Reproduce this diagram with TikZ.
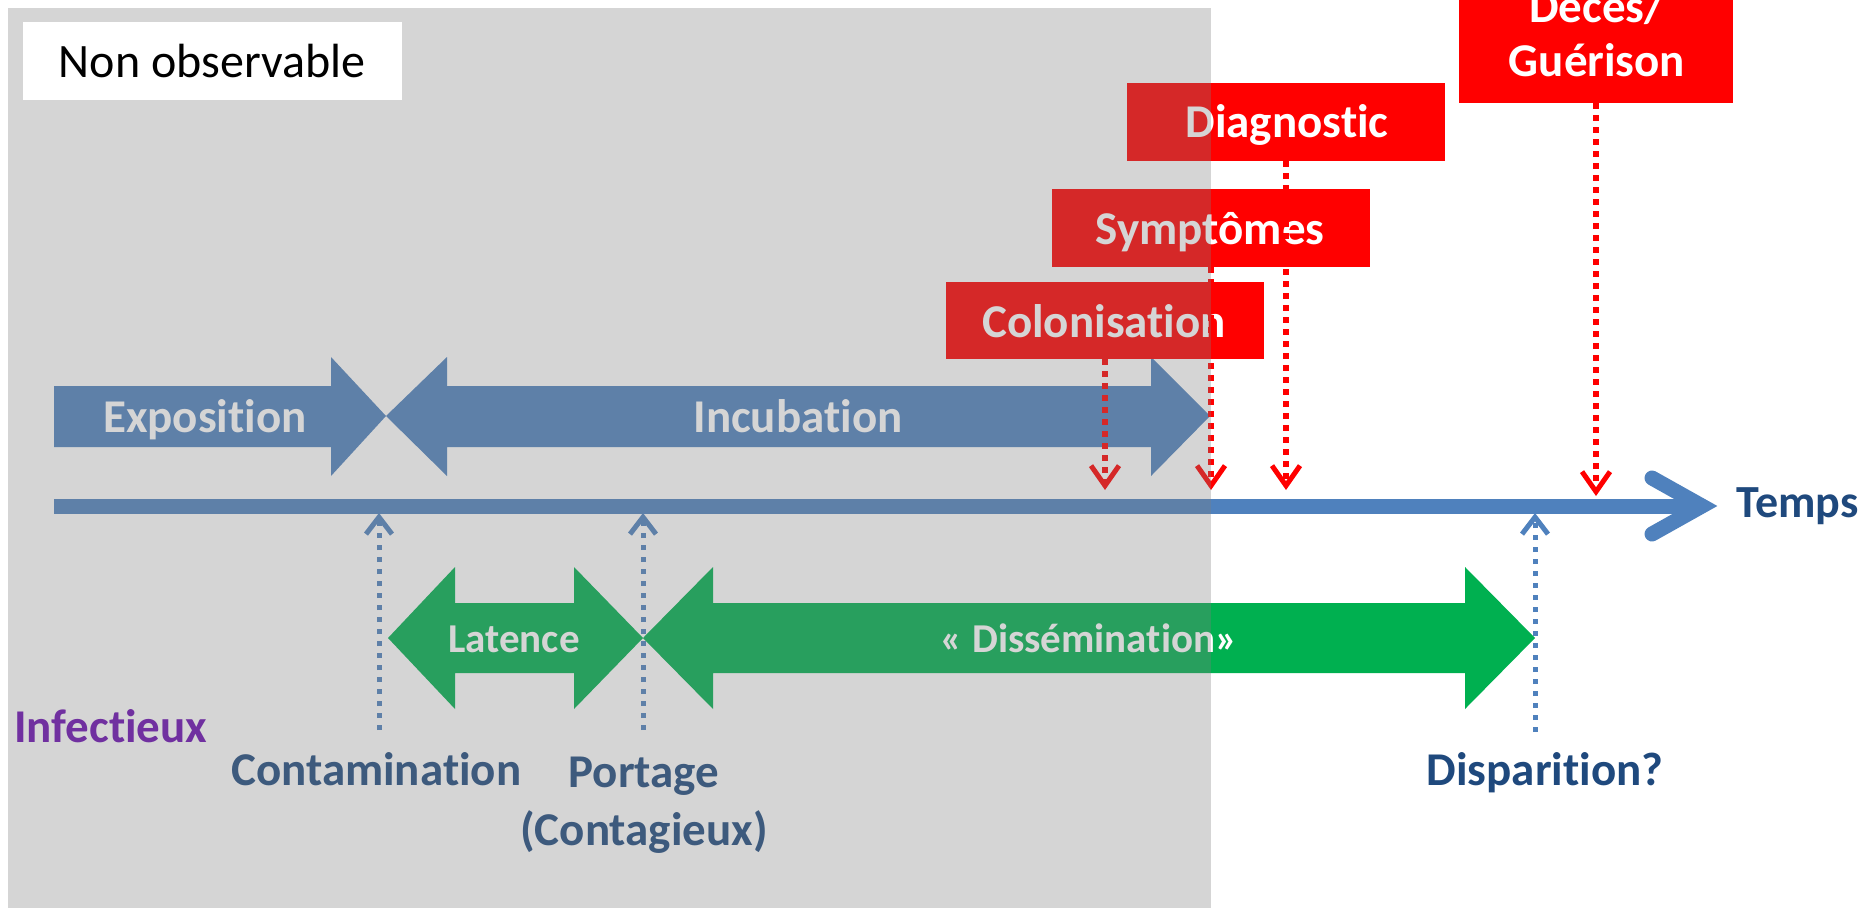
\documentclass[tikz,border=0pt]{standalone}
\usepackage{fontspec}
\setmainfont{Carlito}[Ligatures={NoCommon}]
\usetikzlibrary{arrows.meta}
\definecolor{rd}{HTML}{FF0000}
\definecolor{bl}{HTML}{4F81BD}
\definecolor{gr}{HTML}{00B050}
\definecolor{dk}{HTML}{1F497D}
\definecolor{pu}{HTML}{7030A0}
\definecolor{ov}{RGB}{126,126,126}
\newcommand\myti{t\kern0pt{}i}
\begin{document}
\begin{tikzpicture}[x=1pt,y=-1pt,
  lbl/.style={font=\bfseries\fontsize{47}{56}\selectfont, inner sep=0pt, anchor=base},
  smalllbl/.style={font=\bfseries\fontsize{41}{49}\selectfont, inner sep=0pt, anchor=base, text=white},
  arrlbl/.style={lbl, text=white},
  redbox/.style={fill=rd, inner sep=0pt, minimum width=318pt, minimum height=78pt},
  reddot/.style={rd, line width=6pt, dash pattern=on 6pt off 6pt, -{Straight Barb[length=20pt,width=28pt,line width=5pt]}},
  bluedot/.style={bl, line width=5pt, dash pattern=on 5pt off 7pt, -{Straight Barb[length=17pt,width=26pt,line width=5pt]}},
  bluelbl/.style={lbl, text=dk}
]
\useasboundingbox (0,0) rectangle (1870,908);
\clip (0,0) rectangle (1870,908);
\fill[white] (0,0) rectangle (1870,908);

% timeline
\coordinate (tl0) at (54,506);
\coordinate (tl1) at (1702,506);
\draw[bl, line width=15pt] (tl0) -- (1700,506);
\draw[bl, line width=15pt, line cap=round, line join=miter] (1652,478) -- (tl1) -- (1652,534);
\node[bluelbl, anchor=base west, font=\bfseries\fontsize{46}{55}\selectfont] (temps) at (1736,517) {Temps};

% block arrows
\fill[bl] (54,386) -- (331,386) -- (331,357) -- (386,416) -- (331,476) -- (331,447) -- (54,447) -- cycle;
\fill[bl] (386,416) -- (447,357) -- (447,386) -- (1151,386) -- (1151,357) -- (1210,416) -- (1151,476) -- (1151,447) -- (447,447) -- (447,476) -- cycle;
\node[arrlbl] (expo) at (205,432) {Exposi\myti on};
\node[arrlbl] (incub) at (798,432) {Incuba\myti on};

\fill[gr] (388,638) -- (455,567) -- (455,603) -- (574,603) -- (574,567) -- (643,638) -- (574,709) -- (574,673) -- (455,673) -- (455,709) -- cycle;
\fill[gr] (643,638) -- (713,567) -- (713,603) -- (1465,603) -- (1465,567) -- (1535,638) -- (1465,709) -- (1465,673) -- (713,673) -- (713,709) -- cycle;
\node[smalllbl] (lat) at (514,652) {Latence};
\node[smalllbl] (diss) at (1089,652) {« Dissémina\myti on»};

% red boxes
\node[redbox, minimum width=274pt, minimum height=163pt] (decb) at (1596,21.5) {};
\node[arrlbl] (dect1) at (1597,22) {Décès/};
\node[arrlbl] (dect2) at (1597,76) {Guérison};
\node[redbox] (diab) at (1286,122) {};
\node[arrlbl] (diat) at (1287,137) {Diagnos\myti c};
\node[redbox] (symb) at (1211,228) {};
\node[arrlbl] (symt) at (1210,244) {Symptômes};
\node[redbox, minimum height=77pt] (colb) at (1105,320.5) {};
\node[arrlbl] (colt) at (1104,337) {Colonisa\myti on};

% red dotted arrows
\coordinate (colp) at (1105,490);
\coordinate (symp) at (1211,490);
\coordinate (diap) at (1286,490);
\coordinate (decp) at (1596,496);
\draw[reddot] (colb.south) -- (colp);
\draw[reddot] (symb.south) -- (symp);
\draw[reddot] (diab.south) -- (diap);
\draw[reddot] (decb.south) -- (decp);

% blue dotted arrows
\coordinate (cb) at (379,730);
\coordinate (ct) at (379,513);
\coordinate (pb) at (643,730);
\coordinate (pt) at (643,513);
\coordinate (db) at (1535,732);
\coordinate (dt) at (1535,513);
\draw[bluedot] (cb) -- (ct);
\draw[bluedot] (pb) -- (pt);
\draw[bluedot] (db) -- (dt);

\node[bluelbl, anchor=base west] (cont) at (231,785) {Contamina\myti on};
\node[bluelbl] (port) at (644,787) {Portage};
\node[bluelbl] (contag) at (644,845) {(Contagieux)};
\node[bluelbl] (disp) at (1545,785) {Dispari\myti on?};

% non-observable overlay
\fill[ov, opacity=0.32] (8,8) rectangle (1211,908);
\node[fill=white, minimum width=379pt, minimum height=78pt, inner sep=0pt] (nobox) at (212.5,61) {};
\node[font=\fontsize{48}{57}\selectfont, inner sep=0pt, anchor=base] (notxt) at (212,77) {Non observable};
\node[lbl, text=pu, anchor=base west] (infect) at (14,742) {Infec\myti eux};
\end{tikzpicture}
\end{document}
